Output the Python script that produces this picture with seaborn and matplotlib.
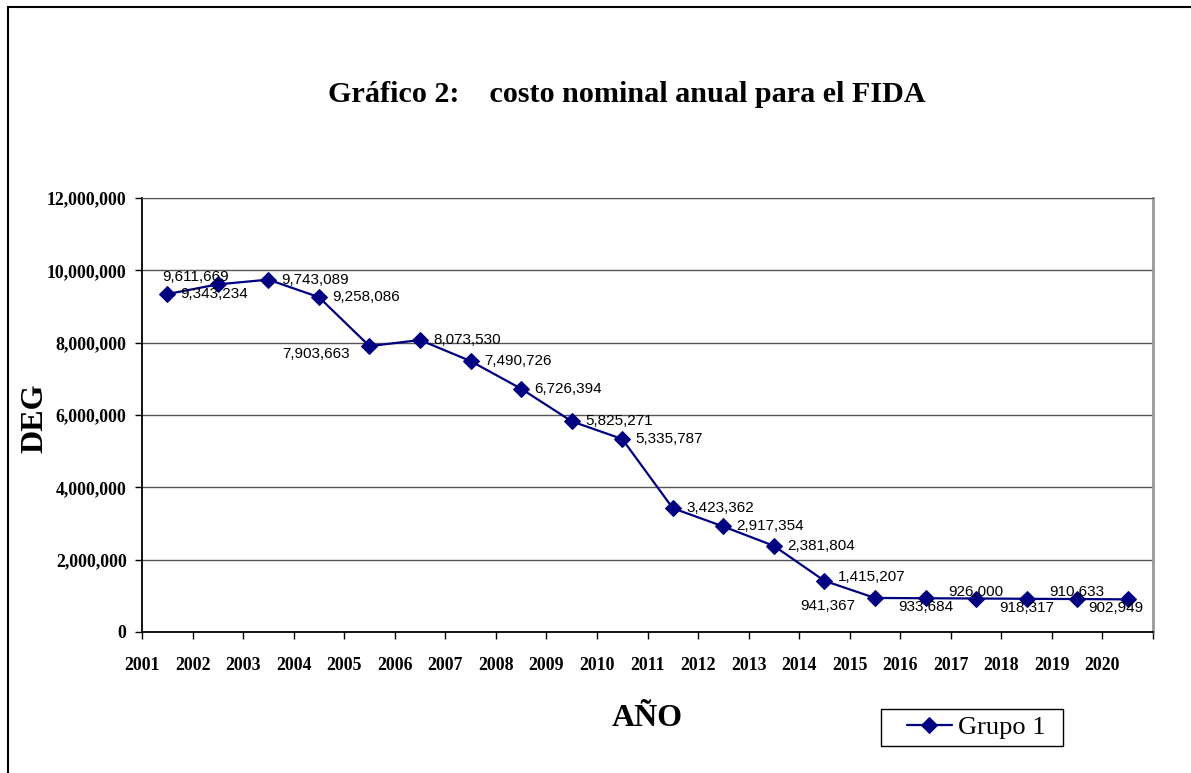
import matplotlib
matplotlib.use("Agg")
import matplotlib.pyplot as plt
import seaborn as sns
import pandas as pd
from matplotlib.patches import Rectangle
from matplotlib.ticker import FuncFormatter, MultipleLocator

years = [str(y) for y in range(2001, 2021)]
costs = [9343234, 9611669, 9743089, 9258086, 7903663, 8073530, 7490726,
         6726394, 5825271, 5335787, 3423362, 2917354, 2381804, 1415207,
         941367, 933684, 926000, 918317, 910633, 902949]
series_name = "Grupo 1"
title = "Gráfico 2:    costo nominal anual para el FIDA"
x_label = "AÑO"
y_label = "DEG"

# label placement codes (offset style per point)
placement = ["r", "al", "r", "r", "bl", "r", "r", "r", "r", "r",
             "r", "r", "r", "ru", "bl", "b", "a", "b", "a", "bl2"]

df = pd.DataFrame({"pos": [i + 0.5 for i in range(len(years))],
                   "cost": costs, "serie": series_name})

sns.set_style("white")
plt.rcParams.update({"text.color": "black", "xtick.color": "black",
                     "ytick.color": "black", "axes.labelcolor": "black"})
serif = ["Liberation Serif", "DejaVu Serif"]
sans = ["Liberation Sans", "DejaVu Sans"]

fig = plt.figure(figsize=(11.91, 7.73), dpi=100)
ax = fig.add_axes([142/1191, 1-632/773, (1153-142)/1191, (632-198)/773])

navy = "#000080"
sns.lineplot(data=df, x="pos", y="cost", hue="serie", palette=[navy],
             marker="D", markersize=8, markeredgecolor=navy, linewidth=1.6,
             ax=ax, legend=True)

ax.set_xlim(0, len(years))
ax.set_ylim(0, 12000000)
ax.set_xticks(range(len(years)))
ax.set_xticklabels(years)
ax.xaxis.set_minor_locator(MultipleLocator(1))
ax.yaxis.set_major_locator(MultipleLocator(2000000))
ax.yaxis.set_major_formatter(FuncFormatter(lambda v, p: f"{int(v):,}"))
ax.set_xlabel("")
ax.set_ylabel("")
for lab in ax.get_xticklabels() + ax.get_yticklabels():
    lab.set_family(serif)
    lab.set_fontweight("bold")
    lab.set_fontsize(12.8)
    lab.set_color("black")
ax.tick_params(axis="both", which="both", direction="out", length=5,
               width=1, color="black", bottom=True, left=True)
ax.tick_params(axis="x", pad=13)
ax.tick_params(axis="y", pad=6)

ax.grid(axis="y", color="#555555", linewidth=1)
ax.grid(axis="x", visible=False)
ax.spines["left"].set_color("black")
ax.spines["bottom"].set_color("black")
ax.spines["left"].set_linewidth(1.3)
ax.spines["bottom"].set_linewidth(1.3)
ax.spines["top"].set_color("#555555")
ax.spines["right"].set_color("#999999")
ax.spines["right"].set_linewidth(2)

offsets = {
    "r": ((9.5, 0), "left", "center"),
    "ru": ((9.5, 3), "left", "center"),
    "al": ((-16, 5), "center", "center"),
    "bl": ((-14, -6), "right", "center"),
    "b": ((0, -6.5), "center", "center"),
    "a": ((0, 5), "center", "center"),
    "bl2": ((-8.5, -6.5), "center", "center"),
}
for x, y, code in zip(df["pos"], df["cost"], placement):
    (dx, dy), ha, va = offsets[code]
    ax.annotate(f"{y:,}", (x, y), xytext=(dx, dy), textcoords="offset points",
                ha=ha, va=va, fontsize=11, family=sans, color="black")

leg = ax.legend(handles=ax.get_legend_handles_labels()[0],
                labels=[series_name], loc="center left",
                bbox_to_anchor=(907/1191, 1-727.5/773),
                bbox_transform=fig.transFigure, frameon=False,
                prop={"family": serif, "size": 19},
                handlelength=1.7, handletextpad=0.25, borderpad=0,
                borderaxespad=0)
for t in leg.get_texts():
    t.set_color("black")
fig.patches.append(Rectangle((881/1191, 1-746/773), (1063-881)/1191,
                             (746-709)/773, transform=fig.transFigure,
                             fill=False, edgecolor="black", linewidth=1))

fig.text(627/1191, 1-95/773, title, ha="center", va="center",
         family=serif, fontweight="bold", fontsize=21.7, color="black")
fig.text(647/1191, 1-718/773, x_label, ha="center", va="center",
         family=serif, fontweight="bold", fontsize=23, color="black")
fig.text(35/1191, 1-418/773, y_label, ha="center", va="center",
         rotation=90, family=serif, fontweight="bold", fontsize=23,
         color="black")

fig.patches.append(Rectangle((8/1191, -0.1), 1.2, 1-7/773+0.1,
                             transform=fig.transFigure, fill=False,
                             edgecolor="black", linewidth=1.5, zorder=0))

fig.savefig("out.png", dpi=100)
